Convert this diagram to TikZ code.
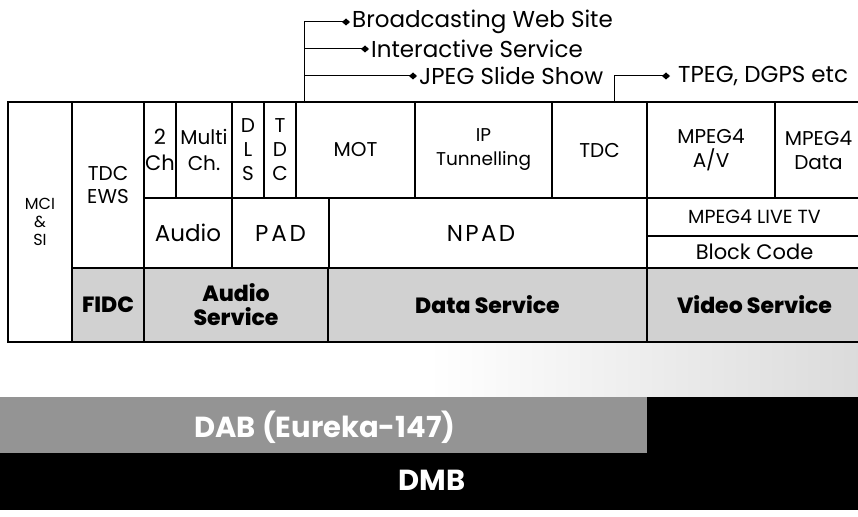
\documentclass[tikz,border=0pt]{standalone}
\usepackage{fontspec}
\setmainfont{Poppins}
\newfontfamily\heavy{Poppins}[UprightFont={* ExtraBold},BoldFont={* Black}]
\usetikzlibrary{arrows.meta,calc}
\tikzset{
  cell/.style={draw=black,line width=1.1pt,inner sep=0pt,outer sep=0pt,align=center,font=\fontsize{20}{21}\selectfont},
  svc/.style={cell,fill=black!18,font=\fontsize{22}{24}\selectfont\heavy},
  lbl/.style={anchor=west,inner sep=0pt,font=\fontsize{23}{24}\selectfont},
  link/.style={line width=1pt,-{Diamond[length=8pt,width=7pt]}},
  band/.style={inner sep=0pt,outer sep=0pt,text=white,font=\fontsize{29}{30}\selectfont\bfseries}
}
\newcommand{\mycell}[7][cell]{%
  \pgfmathsetmacro{\cw}{#5-#3}\pgfmathsetmacro{\ch}{#6-#4}%
  \node[#1,minimum width=\cw pt,minimum height=\ch pt] (#2) at ({(#3+#5)/2},{(#4+#6)/2}) {#7};}
\begin{document}
\begin{tikzpicture}[x=1pt,y=-1pt]
\useasboundingbox (0,0) rectangle (858,516);
% bottom bands
\shade[left color=white,right color=black!14,middle color=white] (0,342) rectangle (858,397);
\fill[black!42] (0,397) rectangle (647,453);
\fill[black] (647,397) rectangle (858,453);
\fill[black] (0,453) rectangle (858,510);
\node[band] (dab) at (325,427) {DAB (Eureka-147)};
\node[band] (dmb) at (432,480) {DMB};
% table
\mycell[cell,font=\fontsize{16}{18}\selectfont]{mci}{8}{102}{72}{342}{MCI\\\&\\SI}
\mycell[cell,font=\fontsize{20}{23}\selectfont]{tdcews}{72}{102}{144}{268}{TDC\\EWS}
\mycell[cell,font=\fontsize{21}{26}\selectfont]{twoch}{144}{102}{176}{198}{2\\Ch}
\mycell[cell,font=\fontsize{20}{26}\selectfont]{multi}{176}{102}{232}{198}{Multi\\Ch.}
\mycell[cell,font=\fontsize{20}{24}\selectfont]{dls}{232}{102}{264}{198}{D\\L\\S}
\mycell[cell,font=\fontsize{20}{24}\selectfont]{tdcv}{264}{102}{296}{198}{T\\D\\C}
\mycell{mot}{296}{102}{415}{198}{MOT}
\mycell[cell,font=\fontsize{18.5}{24}\selectfont]{ip}{415}{102}{552}{198}{IP\\Tunnelling}
\mycell{tdc}{552}{102}{647}{198}{TDC}
\mycell[cell,font=\fontsize{20}{24}\selectfont]{mav}{647}{102}{775}{198}{MPEG4\\A/V}
\mycell[cell,font=\fontsize{20}{24}\selectfont]{mdata}{775}{102}{862}{198}{MPEG4\\Data}
\mycell[cell,font=\fontsize{23}{24}\selectfont]{audio}{144}{198}{232}{268}{Audio}
\mycell[cell,font=\fontsize{23}{24}\selectfont\addfontfeature{LetterSpace=12}]{pad}{232}{198}{329}{268}{PAD}
\mycell[cell,font=\fontsize{23}{24}\selectfont\addfontfeature{LetterSpace=10}]{npad}{329}{198}{647}{268}{NPAD\hspace*{14pt}}
\mycell[cell,font=\fontsize{19}{20}\selectfont]{live}{647}{198}{862}{236}{MPEG4 LIVE TV}
\mycell[cell,font=\fontsize{21}{22}\selectfont]{block}{647}{236}{862}{268}{Block Code}
\mycell[svc]{fidc}{72}{268}{144}{342}{FIDC}
\mycell[svc]{asvc}{144}{268}{328}{342}{Audio\\Service}
\mycell[svc]{dsvc}{328}{268}{647}{342}{Data Service}
\mycell[svc]{vsvc}{647}{268}{862}{342}{Video Service}
% labels
\node[lbl] (bws) at (352,22) {Broadcasting Web Site};
\node[lbl] (isv) at (371,49) {Interactive Service};
\node[lbl] (jpg) at (419,76) {JPEG Slide Show};
\node[lbl] (tpeg) at (678,76) {TPEG, DGPS etc};
\coordinate (motup) at ($(mot.north west)+(8,0)$);
\coordinate (tdcup) at ($(tdc.north west)+(62,0)$);
\draw[line width=1pt] (motup) -- (motup |- bws.west);
\draw[link] (motup |- bws.west) -- ([xshift=-2pt]bws.west);
\draw[link] (motup |- isv.west) -- ([xshift=-2pt]isv.west);
\draw[link] (motup |- jpg.west) -- ([xshift=-2pt]jpg.west);
\draw[link] (tdcup) -- (tdcup |- tpeg.west) -- ([xshift=-8pt]tpeg.west);
\end{tikzpicture}
\end{document}
